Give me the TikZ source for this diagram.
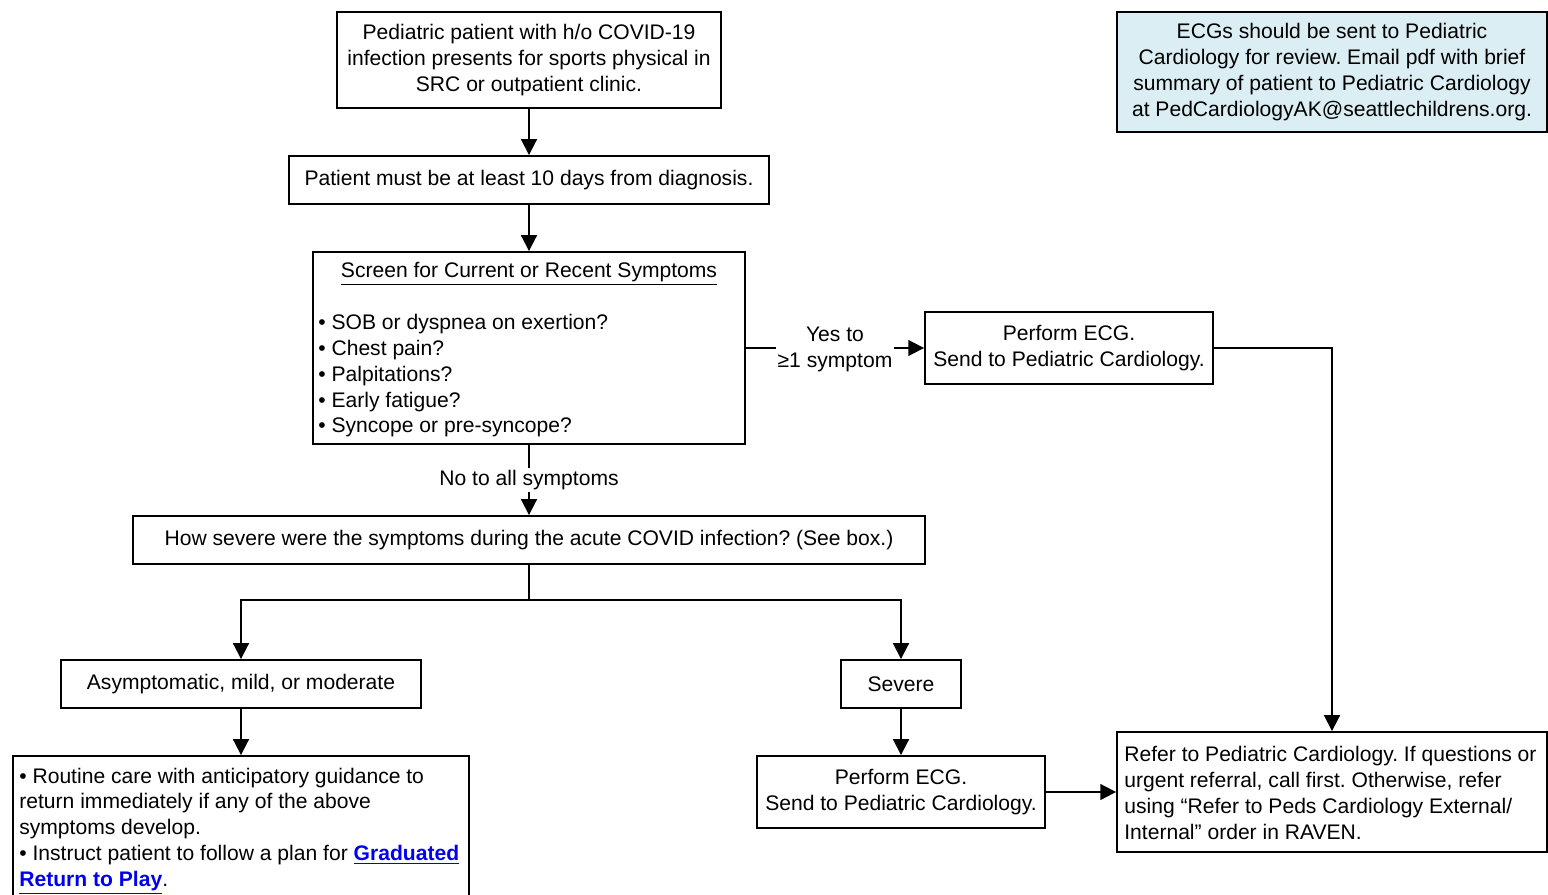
\documentclass[tikz,border=0pt]{standalone}
\usepackage{fontspec}
\setmainfont{Liberation Sans}
\usetikzlibrary{arrows.meta,positioning}
\definecolor{infoblue}{RGB}{218,238,243}
\definecolor{linkblue}{RGB}{0,0,238}
\begin{document}
\frenchspacing
\begin{tikzpicture}[x=0.02cm,y=-0.02cm,
  every node/.style={font=\fontsize{12}{14.7}\selectfont},
  box/.style={draw, line width=1.1pt, inner sep=0pt, align=center},
  ltext/.style={anchor=west, inner sep=0pt, align=left},
  arr/.style={line width=1.1pt, -{Triangle[length=9pt,width=9pt]}},
  conn/.style={line width=1.1pt},
  lbl/.style={fill=white, inner sep=1pt, align=center}]
\useasboundingbox (0,0) rectangle (1548,895);

\node[box, minimum width=7.68cm, minimum height=1.92cm] (b1) at (529,60)
  {Pediatric patient with h/o COVID-19\\infection presents for sports physical in\\SRC or outpatient clinic.};
\node[box, minimum width=9.6cm, minimum height=0.96cm] (b2) at (529,180)
  {Patient must be at least 10 days from diagnosis.};
\node[box, minimum width=8.64cm, minimum height=3.84cm] (b3) at (529,348) {};
\node (b3t) at (529,274) {\underline{Screen for Current or Recent Symptoms}};
\node[anchor=north west, inner sep=0pt, align=left] (b3b) at (318,314)
  {• SOB or dyspnea on exertion?\\• Chest pain?\\• Palpitations?\\• Early fatigue?\\• Syncope or pre-syncope?};
\node[box, minimum width=5.76cm, minimum height=1.44cm] (b4) at (1069,348)
  {Perform ECG.\\Send to Pediatric Cardiology.};
\node[box, minimum width=15.84cm, minimum height=0.96cm] (b5) at (529,540)
  {How severe were the symptoms during the acute COVID infection? (See box.)};
\node[box, minimum width=7.2cm, minimum height=0.96cm] (b6) at (241,684)
  {Asymptomatic, mild, or moderate};
\node[box, minimum width=2.4cm, minimum height=0.96cm] (b7) at (901,684)
  {Severe};
\node[box, minimum width=9.12cm, minimum height=2.92cm] (b8) at (241,829) {};
\node[ltext] (b8t) at (19,831)
  {• Routine care with anticipatory guidance to\\return immediately if any of the above\\symptoms develop.\\• Instruct patient to follow a plan for \textcolor{linkblue}{\underline{\textbf{Graduated}}}\\\textcolor{linkblue}{\underline{\textbf{Return to Play}}}.};
\node[box, minimum width=5.76cm, minimum height=1.44cm] (b9) at (901,792)
  {Perform ECG.\\Send to Pediatric Cardiology.};
\node[box, minimum width=8.6cm, minimum height=2.4cm] (b10) at (1332,792) {};
\node[ltext] (b10t) at (1124,793)
  {Refer to Pediatric Cardiology. If questions or\\urgent referral, call first. Otherwise, refer\\using “Refer to Peds Cardiology External/\\Internal” order in RAVEN.};
\node[box, fill=infoblue, minimum width=8.6cm, minimum height=2.4cm] (info) at (1332,72)
  {ECGs should be sent to Pediatric\\Cardiology for review. Email pdf with brief\\summary of patient to Pediatric Cardiology\\at PedCardiologyAK@seattlechildrens.org.};

\coordinate (j) at (529,600);
\draw[arr] (b1) -- (b2);
\draw[arr] (b2) -- (b3);
\draw[arr] (b3.east) -- node[lbl, yshift=-1pt]{Yes to\\≥1 symptom} (b4.west);
\draw[arr] (b3.south) -- node[lbl]{No to all symptoms} (b5.north);
\draw[arr] (b4.east) -| (b10.north);
\draw[conn] (b5.south) -- (j);
\draw[arr] (j) -| (b6.north);
\draw[arr] (j) -| (b7.north);
\draw[arr] (b6) -- (b8);
\draw[arr] (b7) -- (b9);
\draw[arr] (b9) -- (b10);
\end{tikzpicture}
\end{document}
